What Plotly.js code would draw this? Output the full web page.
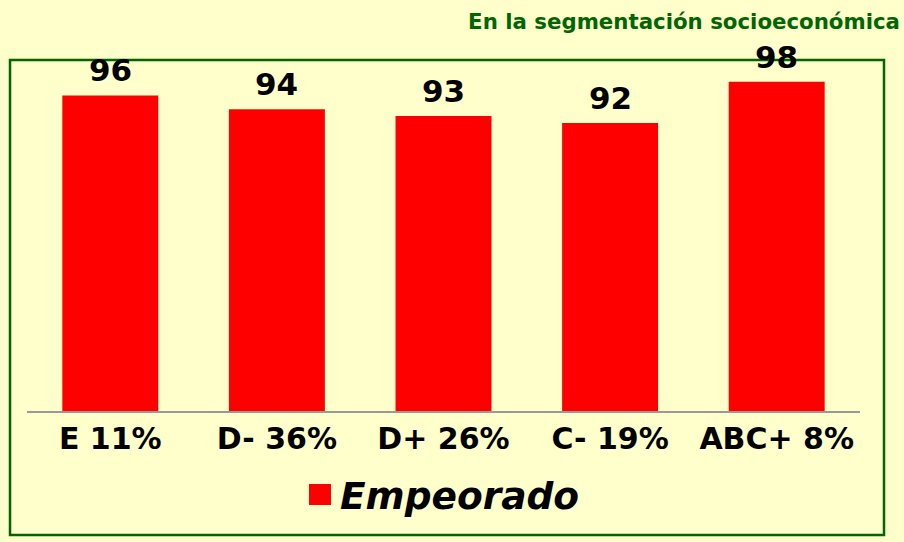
<!DOCTYPE html>
<html>
<head>
<meta charset="utf-8">
<script src="https://cdn.plot.ly/plotly-3.0.1.min.js"></script>
<style>
  body { margin: 0; background: #FFFFCC; }
  #chart { width: 904px; height: 542px; }
</style>
</head>
<body>
<div id="chart"></div>
<script>
// Empeorado por nivel socioeconómico
var segmentos = ['E 11%', 'D- 36%', 'D+ 26%', 'C- 19%', 'ABC+ 8%'];
var empeorado = [96, 94, 93, 92, 98];

var W = 904, H = 542;
var mL = 27, mR = 44, mT = 68, mB = 131;
var plotW = W - mL - mR, plotH = H - mT - mB;

// px -> paper coords
function px(x) { return (x - mL) / plotW; }
function py(y) { return (H - mB - y) / plotH; }

var boldFont = {family: 'DejaVu Sans', weight: 'bold', color: '#000000'};

var data = [
    {
        x: segmentos,
        y: empeorado,
        name: 'Empeorado',
        type: 'bar',
        marker: {color: '#FF0000'}
    }
];

var etiquetas = empeorado.map(function(v, i) {
    return {
        x: segmentos[i], y: v, text: String(v),
        xref: 'x', yref: 'y', yanchor: 'bottom', yshift: 5,
        showarrow: false,
        font: Object.assign({}, boldFont, {size: 31})
    };
});

var layout = {
    width: W, height: H,
    margin: {l: mL, r: mR, t: mT, b: mB},
    paper_bgcolor: '#FFFFCC',
    plot_bgcolor: '#FFFFCC',
    title: {
        text: 'En la segmentación socioeconómica',
        x: 900 / W, xanchor: 'right', xref: 'container',
        y: 1 - 22 / H, yanchor: 'middle', yref: 'container',
        font: {family: 'DejaVu Sans', weight: 'bold', size: 21.3, color: '#006600'}
    },
    bargap: 0.424,
    xaxis: {
        showline: true, linecolor: '#999999', linewidth: 2,
        ticks: '', ticklabelstandoff: 0,
        tickfont: Object.assign({}, boldFont, {size: 30}),
        showgrid: false, zeroline: false, fixedrange: true
    },
    yaxis: {
        range: [50, 100], visible: false, showgrid: false, zeroline: false
    },
    showlegend: true,
    legend: {
        orientation: 'h',
        x: px(300), xanchor: 'left',
        y: py(494), yanchor: 'middle',
        bgcolor: 'rgba(0,0,0,0)',
        font: {family: 'DejaVu Sans', weight: 'bold', style: 'italic', size: 37.5, color: '#000000'}
    },
    annotations: etiquetas,
    shapes: [
        {
            type: 'rect', xref: 'paper', yref: 'paper', layer: 'below',
            x0: px(10), x1: px(884), y0: py(535), y1: py(60),
            line: {color: '#006600', width: 2.5}
        },
        // larger legend swatch, like the original
        {
            type: 'rect', xref: 'paper', yref: 'paper', layer: 'above',
            x0: px(309), x1: px(331), y0: py(505), y1: py(484),
            fillcolor: '#FF0000', line: {width: 0}
        }
    ]
};

Plotly.newPlot('chart', data, layout, {displayModeBar: false});
</script>
</body>
</html>
